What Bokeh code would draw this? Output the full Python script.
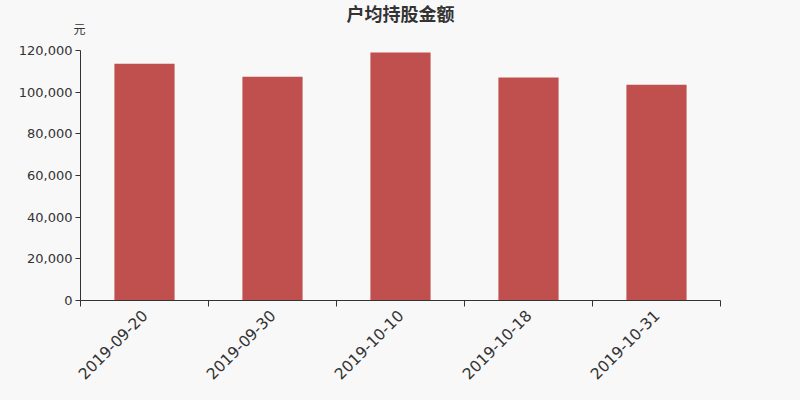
from bokeh.plotting import figure
from bokeh.models import FixedTicker, NumeralTickFormatter, Range1d, Label, ColumnDataSource
from bokeh.embed import file_html
from bokeh.resources import INLINE
import math

categories = ["2019-09-20", "2019-09-30", "2019-10-10", "2019-10-18", "2019-10-31"]
values = [113700, 107400, 119100, 107000, 103600]
y_ticks = [0, 20000, 40000, 60000, 80000, 100000, 120000]
y_max = 120000
title_text = "户均持股金额"
unit_text = "元"

BG = "#f8f8f8"
BAR = "#c0504d"
AX = "#333333"

n = len(categories)
xs = [i + 0.5 for i in range(n)]
src = ColumnDataSource(dict(x=xs, top=values))

# the frame covers the whole canvas so that titles and axis labels live inside it;
# the axes are placed at the data origin with fixed_location and limited with bounds
px_per_y = y_max / 250
p = figure(width=784, height=384, output_backend="svg", toolbar_location=None,
           x_range=Range1d(-80 / 128, 5.5),
           y_range=Range1d(-84 * px_per_y, 300 * px_per_y),
           frame_width=784, frame_height=384,
           min_border_left=0, min_border_right=0, min_border_top=0, min_border_bottom=0,
           background_fill_color=BG, border_fill_color=BG)
p.outline_line_color = None
p.grid.visible = False

p.vbar(x="x", top="top", width=0.47, bottom=0, source=src, color=BAR, line_color=None)

xa = p.xaxis[0]
xa.fixed_location = 0
xa.bounds = (0, n)
xa.ticker = FixedTicker(ticks=xs, minor_ticks=list(range(n + 1)))
xa.major_label_overrides = {x: c for x, c in zip(xs, categories)}
xa.major_label_orientation = math.pi / 4
xa.major_tick_line_color = None
xa.minor_tick_line_color = AX
xa.minor_tick_out = 6
xa.minor_tick_in = 0
xa.axis_line_color = AX
xa.major_label_text_font = "DejaVu Sans"
xa.major_label_text_font_size = "15.5px"
xa.major_label_text_color = AX
xa.major_label_standoff = 6

ya = p.yaxis[0]
ya.fixed_location = 0
ya.bounds = (0, y_max)
ya.ticker = FixedTicker(ticks=y_ticks)
ya.formatter = NumeralTickFormatter(format="0,0")
ya.major_tick_out = 5
ya.major_tick_in = 0
ya.minor_tick_line_color = None
ya.axis_line_color = AX
ya.major_tick_line_color = AX
ya.major_label_text_font = "DejaVu Sans"
ya.major_label_text_font_size = "13px"
ya.major_label_text_color = AX
ya.major_label_standoff = 3

title = Label(x=400, y=372, x_units="screen", y_units="screen", text=title_text,
              text_align="center", text_baseline="middle",
              text_font="Noto Sans CJK SC", text_font_size="18px",
              text_font_style="bold", text_color=AX)
p.add_layout(title)

unit = Label(x=79, y=356, x_units="screen", y_units="screen", text=unit_text,
             text_align="center", text_baseline="middle",
             text_font="Noto Sans CJK SC", text_font_size="12px", text_color=AX)
p.add_layout(unit)

html = file_html(p, INLINE)
html = html.replace("<head>", "<head><style>body{background:%s;}</style>" % BG, 1)
open("out.html", "w").write(html)
